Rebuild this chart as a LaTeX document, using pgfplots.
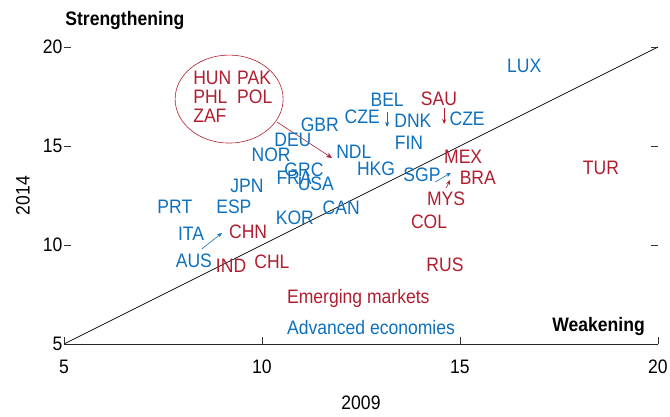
\documentclass[border=0pt]{standalone}
\usepackage{fontspec}
\setmainfont{Liberation Sans}[FakeStretch=0.9]
\usepackage{pgfplots}
\usepackage{pgfplotstable}
\pgfplotsset{compat=1.18}
\usetikzlibrary{arrows.meta}
\definecolor{advblue}{RGB}{14,112,190}
\definecolor{emred}{RGB}{176,30,48}

\pgfplotstableread{
x y label
11.46 16.06 GBR
10.78 15.30 DEU
10.23 14.55 NOR
11.06 13.79 GRC
10.81 13.38 FRA
11.36 13.08 USA
9.62 12.98 JPN
7.80 11.92 PRT
9.29 11.92 ESP
8.21 10.56 ITA
8.28 9.19 AUS
10.83 11.36 KOR
12.00 11.87 CAN
12.32 14.70 NDL
12.88 13.84 HKG
12.53 16.46 CZE
13.16 17.32 BEL
13.81 16.26 DNK
13.71 15.15 FIN
15.18 16.36 CZE
16.62 19.04 LUX
14.04 13.54 SGP
}\advanced

\pgfplotstableread{
x y label
9.65 10.66 CHN
9.22 8.94 IND
10.25 9.14 CHL
14.47 17.37 SAU
15.08 14.44 MEX
15.45 13.38 BRA
14.65 12.32 MYS
14.22 11.16 COL
18.56 13.89 TUR
14.62 8.99 RUS
}\emerging

\begin{document}
\fontsize{19.5pt}{22pt}\selectfont
\begin{tikzpicture}
\begin{axis}[
  scale only axis, width=594pt, height=297pt,
  xmin=5, xmax=20, ymin=5, ymax=20,
  clip=false,
  axis line style={draw=none},
  xtick={5,10,15,20}, ytick={5,10,15,20},
  xtick pos=bottom, ytick pos=both,
  tick align=inside,
  major tick length=7pt,
  tick style={black!80, line width=0.6pt},
  /pgf/number format/assume math mode=true,
  xticklabel style={yshift=-9pt},
  yticklabel style={xshift=5pt},
  xlabel={2009}, ylabel={2014},
  xlabel style={at={(axis description cs:0.5,0)}, anchor=center, yshift=-59pt},
  ylabel style={at={(axis description cs:-0.069,0.5)}, anchor=center},
]
\coordinate (O) at (axis cs:5,5);
\draw[black!85, line width=0.9pt] (rel axis cs:0,0) -- (rel axis cs:1,0);
\addplot[black!90, line width=0.8pt] coordinates {(5,5) (20,20)};

\addplot[only marks, mark=*, mark size=0pt, mark options={draw=none, fill=none},
  nodes near coords, point meta=explicit symbolic, nodes near coords align=center,
  every node near coord/.append style={text=advblue, inner sep=0pt}]
  table[x=x, y=y, meta=label] {\advanced};
\addplot[only marks, mark=*, mark size=0pt, mark options={draw=none, fill=none},
  nodes near coords, point meta=explicit symbolic, nodes near coords align=center,
  every node near coord/.append style={text=emred, inner sep=0pt}]
  table[x=x, y=y, meta=label] {\emerging};

% emerging group in ellipse
\draw[emred, line width=0.6pt] (axis cs:9.17,17.37) ellipse [x radius=54pt, y radius=44pt];
\node[anchor=west, text=emred, inner sep=0pt, align=left] at (axis cs:8.26,17.37)
  {\begin{tabular}{@{}l@{\hspace{0.3em}}l@{}}HUN & PAK\\[-3pt] PHL & POL\\[-3pt] ZAF & \end{tabular}};
\draw[emred, line width=0.6pt, -{Stealth[length=6pt, width=5pt]}] (axis cs:10.38,16.21) -- (axis cs:11.77,14.39);

% arrows
\draw[advblue, line width=0.6pt, -{Stealth[length=5pt, width=4pt]}] (axis cs:8.48,9.80) -- (axis cs:8.99,10.61);
\draw[advblue, line width=0.6pt, -{Stealth[length=5pt, width=4pt]}] (axis cs:13.16,16.72) -- (axis cs:13.16,15.96);
\draw[emred, line width=0.6pt, -{Stealth[length=5pt, width=4pt]}] (axis cs:14.60,16.92) -- (axis cs:14.60,16.11);
\draw[advblue, line width=0.6pt, -{Stealth[length=5pt, width=4pt]}] (axis cs:14.37,13.18) -- (axis cs:14.77,13.64);
\draw[emred, line width=0.6pt, -{Stealth[length=5pt, width=4pt]}] (axis cs:14.65,12.88) -- (axis cs:14.75,13.28);

% legend and annotations
\node[anchor=west, text=emred, inner sep=0pt] at (axis cs:10.63,7.32) {Emerging markets};
\node[anchor=west, text=advblue, inner sep=0pt] at (axis cs:10.63,5.81) {Advanced economies};
\node[anchor=east, inner sep=0pt, font=\bfseries] at (axis cs:19.67,5.86) {Weakening};
\node[anchor=west, inner sep=0pt, font=\bfseries] at ([yshift=27pt]axis cs:5.03,20) {Strengthening};
\end{axis}
\pgfresetboundingbox
\path ([shift={(-64pt,-72pt)}]O) rectangle ([shift={(606pt,344pt)}]O);
\end{tikzpicture}
\end{document}
